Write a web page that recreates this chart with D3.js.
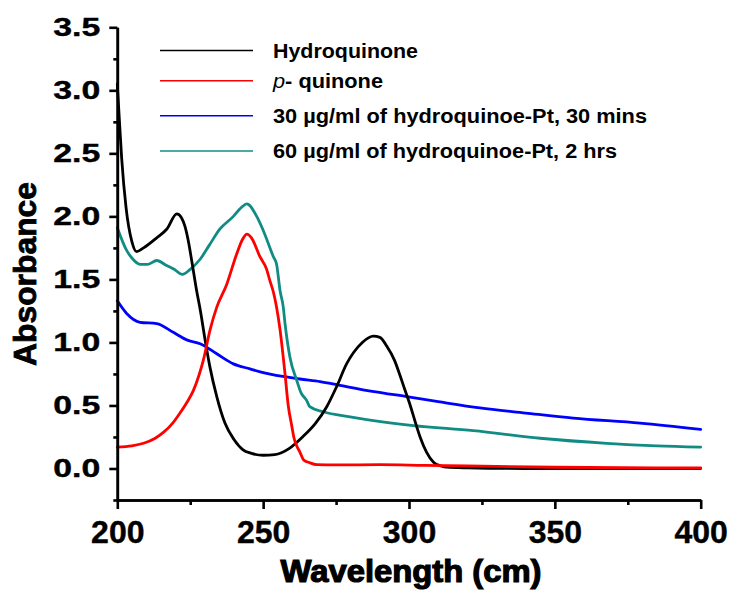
<!DOCTYPE html>
<html>
<head>
<meta charset="utf-8">
<script src="https://cdn.jsdelivr.net/npm/d3@7"></script>
<style>
  html, body { margin: 0; padding: 0; background: #fff; }
  svg { display: block; }
  text { font-family: "Liberation Sans", Arial, sans-serif; font-weight: bold; fill: #000; }
</style>
</head>
<body>
<svg id="chart" width="732" height="596"></svg>
<script>
// ---- data ----
const seriesNames = ["Hydroquinone", "p- quinone", "30 µg/ml of hydroquinoe-Pt, 30 mins", "60 µg/ml of hydroquinoe-Pt, 2 hrs"];
const seriesColors = ["#000000", "#ff0000", "#0000ff", "#108c84"];

const hqWave = [200, 200.5, 201.5, 203, 205, 206.6, 209, 213.5, 217, 220.4, 222, 223.2, 224.3, 225.5, 227.2, 228.5, 230.1, 231.8, 234.1, 236.9, 240, 243, 246, 250, 254, 259, 263.5, 268, 271.8, 275.2, 278.6, 281, 284, 287.8, 290, 292.4, 295, 296.9, 298.5, 300.3, 302, 303.8, 306, 308.4, 311, 313, 320, 340, 360, 380, 400];
const hqAbs  = [3.05, 2.85, 2.46, 2.07, 1.80, 1.72, 1.75, 1.83, 1.90, 2.02, 1.99, 1.92, 1.81, 1.65, 1.41, 1.25, 1.02, 0.80, 0.57, 0.36, 0.23, 0.15, 0.12, 0.105, 0.11, 0.16, 0.25, 0.36, 0.49, 0.65, 0.83, 0.92, 1.00, 1.05, 1.04, 0.97, 0.86, 0.74, 0.63, 0.51, 0.38, 0.25, 0.13, 0.05, 0.02, 0.01, 0.005, 0.0, 0.0, 0.0, 0.0];

const pqWave = [200, 205, 209, 213, 216, 219, 221.5, 224, 226.1, 228, 229.5, 231.8, 234.1, 237.5, 240.9, 243, 244.4, 246, 248.9, 251.2, 252.3, 253.5, 254.6, 255.8, 256.9, 257.5, 258.6, 259.8, 260.6, 261.5, 262.6, 263.8, 266, 268.4, 275, 290, 305, 320, 350, 400];
const pqAbs  = [0.17, 0.18, 0.20, 0.24, 0.29, 0.36, 0.44, 0.53, 0.62, 0.74, 0.86, 1.10, 1.28, 1.46, 1.70, 1.82, 1.86, 1.83, 1.68, 1.58, 1.49, 1.40, 1.28, 1.10, 0.88, 0.75, 0.50, 0.34, 0.24, 0.18, 0.13, 0.07, 0.045, 0.03, 0.028, 0.03, 0.025, 0.02, 0.01, 0.004];

const pt30Wave = [200, 203.2, 207.8, 213.5, 219.2, 223.8, 228.4, 234.1, 239.8, 245.5, 250, 262.6, 269.5, 276.3, 288, 299.2, 310, 324.3, 340, 356.3, 379.2, 400];
const pt30Abs  = [1.33, 1.23, 1.16, 1.15, 1.08, 1.02, 0.99, 0.91, 0.83, 0.79, 0.76, 0.71, 0.69, 0.66, 0.61, 0.57, 0.53, 0.48, 0.44, 0.40, 0.36, 0.31];

const pt60Wave = [200, 203.2, 205, 207.8, 210.5, 213.5, 216.9, 219.5, 222.3, 225, 228.4, 231.5, 235.2, 239.8, 242.5, 244.4, 247.8, 250, 253.5, 254.6, 255.8, 256.9, 257.5, 259.2, 261.5, 263, 264.9, 266, 270.6, 279.8, 287.8, 301.5, 322, 344.9, 367.8, 385, 400];
const pt60Abs  = [1.91, 1.73, 1.67, 1.62, 1.62, 1.65, 1.61, 1.58, 1.54, 1.58, 1.66, 1.77, 1.90, 2.00, 2.07, 2.10, 2.00, 1.89, 1.68, 1.62, 1.41, 1.28, 1.15, 0.88, 0.70, 0.60, 0.54, 0.49, 0.45, 0.41, 0.38, 0.34, 0.30, 0.24, 0.20, 0.18, 0.17];

const xMajorTicks = [200, 250, 300, 350, 400];
const xMinorTicks = [225, 275, 325, 375];
const yMajorTicks = [0.0, 0.5, 1.0, 1.5, 2.0, 2.5, 3.0, 3.5];
const yMinorTicks = [-0.25, 0.25, 0.75, 1.25, 1.75, 2.25, 2.75, 3.25];

const xTitle = "Wavelength (cm)";
const yTitle = "Absorbance";

// ---- drawing ----
const svg = d3.select("#chart");
svg.append("rect").attr("width", 732).attr("height", 596).attr("fill", "#fff");

const x = d3.scaleLinear().domain([200, 400]).range([117.3, 700.7]);
const y = d3.scaleLinear().domain([-0.25, 3.5]).range([500, 27.3]);

const series = [
  {wave: hqWave, abs: hqAbs},
  {wave: pqWave, abs: pqAbs},
  {wave: pt30Wave, abs: pt30Abs},
  {wave: pt60Wave, abs: pt60Abs}
];

const line = d3.line()
  .x(d => x(d[0]))
  .y(d => y(d[1]))
  .curve(d3.curveMonotoneX);

const order = [2, 3, 0, 1];
order.forEach(i => {
  const pts = series[i].wave.map((w, k) => [w, series[i].abs[k]]);
  svg.append("path")
    .datum(pts)
    .attr("d", line)
    .attr("fill", "none")
    .attr("stroke", seriesColors[i])
    .attr("stroke-width", 2.8)
    .attr("stroke-linejoin", "round")
    .attr("stroke-linecap", "round");
});

// axes
const axisStroke = 2.6;

const yAxisG = svg.append("g").attr("transform", `translate(${x(200)},0)`)
  .call(d3.axisLeft(y).tickValues(yMajorTicks).tickFormat(d3.format(".1f")).tickSize(8).tickSizeOuter(0).tickPadding(9));
const yMinorG = svg.append("g").attr("transform", `translate(${x(200)},0)`)
  .call(d3.axisLeft(y).tickValues(yMinorTicks).tickFormat("").tickSize(4).tickSizeOuter(0));

const xAxisG = svg.append("g").attr("transform", `translate(0,${y(-0.25)})`)
  .call(d3.axisBottom(x).tickValues(xMajorTicks).tickFormat(d3.format("d")).tickSize(9).tickSizeOuter(0).tickPadding(11));
const xMinorG = svg.append("g").attr("transform", `translate(0,${y(-0.25)})`)
  .call(d3.axisBottom(x).tickValues(xMinorTicks).tickFormat("").tickSize(5).tickSizeOuter(0));

[yAxisG, yMinorG, xAxisG, xMinorG].forEach(g => {
  g.selectAll("path.domain").attr("stroke", "#000").attr("stroke-width", axisStroke);
  g.selectAll(".tick line").attr("stroke", "#000").attr("stroke-width", axisStroke);
});

yAxisG.selectAll(".tick text")
  .attr("font-family", "Liberation Sans, Arial, sans-serif")
  .attr("font-weight", "bold")
  .attr("font-size", 26)
  .attr("fill", "#000")
  .attr("stroke", "#000")
  .attr("stroke-width", 0.4)
  .attr("textLength", 47)
  .attr("lengthAdjust", "spacingAndGlyphs");

xAxisG.selectAll(".tick text")
  .attr("font-family", "Liberation Sans, Arial, sans-serif")
  .attr("font-weight", "bold")
  .attr("font-size", 32)
  .attr("fill", "#000")
  .attr("stroke", "#000")
  .attr("stroke-width", 0.4);

// axis titles
svg.append("text")
  .attr("x", 411).attr("y", 582)
  .attr("text-anchor", "middle")
  .attr("font-size", 32)
  .attr("stroke", "#000")
  .attr("stroke-width", 1.2)
  .attr("textLength", 261)
  .attr("lengthAdjust", "spacingAndGlyphs")
  .text(xTitle);

svg.append("text")
  .attr("transform", "translate(36,274) rotate(-90)")
  .attr("text-anchor", "middle")
  .attr("font-size", 32)
  .attr("stroke", "#000")
  .attr("stroke-width", 0.8)
  .attr("textLength", 184)
  .attr("lengthAdjust", "spacingAndGlyphs")
  .text(yTitle);

// legend
const legendY = [50.5, 80.7, 115.7, 151];
const legendWidths = [145, 110, 374, 344];
seriesNames.forEach((name, i) => {
  const ly = legendY[i];
  svg.append("line")
    .attr("x1", 160).attr("x2", 253)
    .attr("y1", ly).attr("y2", ly)
    .attr("stroke", seriesColors[i])
    .attr("stroke-width", 1.6);
  const t = svg.append("text")
    .attr("x", 273).attr("y", ly + 7)
    .attr("font-size", 20)
    .attr("textLength", legendWidths[i])
    .attr("lengthAdjust", "spacingAndGlyphs");
  if (i === 1) {
    t.append("tspan").attr("font-style", "italic").attr("font-weight", "normal").text("p");
    t.append("tspan").text(name.slice(1));
  } else {
    t.text(name);
  }
});
</script>
</body>
</html>
